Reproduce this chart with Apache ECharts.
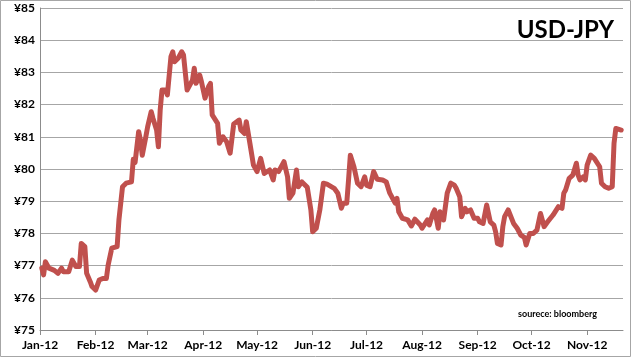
<!DOCTYPE html>
<html>
<head>
<meta charset="utf-8">
<script src="https://cdn.jsdelivr.net/npm/echarts@6/dist/echarts.min.js"></script>
<style>
html,body{margin:0;padding:0;background:#fff;}
#c{width:641px;height:360px;}
</style>
</head>
<body>
<div id="c"></div>
<script>
// ---- data ----
const dates = [
'2012-01-02','2012-01-03','2012-01-04','2012-01-06','2012-01-09','2012-01-11','2012-01-13','2012-01-14','2012-01-17','2012-01-19',
'2012-01-21','2012-01-23','2012-01-24','2012-01-26','2012-01-27','2012-01-29','2012-01-30','2012-02-01','2012-02-02','2012-02-03',
'2012-02-05','2012-02-07','2012-02-08','2012-02-10','2012-02-11','2012-02-13','2012-02-14','2012-02-15','2012-02-16','2012-02-18',
'2012-02-21','2012-02-22','2012-02-23','2012-02-25','2012-02-26','2012-02-27','2012-02-29','2012-03-01','2012-03-03','2012-03-04',
'2012-03-06','2012-03-07','2012-03-08','2012-03-09','2012-03-11','2012-03-12','2012-03-14','2012-03-15','2012-03-16','2012-03-18',
'2012-03-20','2012-03-21','2012-03-23','2012-03-24','2012-03-26','2012-03-27','2012-03-28','2012-03-30','2012-03-31','2012-04-02',
'2012-04-04','2012-04-05','2012-04-06','2012-04-09','2012-04-10','2012-04-12','2012-04-14','2012-04-16','2012-04-18','2012-04-21',
'2012-04-22','2012-04-24','2012-04-25','2012-04-27','2012-04-29','2012-05-01','2012-05-03','2012-05-05','2012-05-06','2012-05-08',
'2012-05-10','2012-05-11','2012-05-13','2012-05-14','2012-05-16','2012-05-18','2012-05-19','2012-05-21','2012-05-23','2012-05-24',
'2012-05-26','2012-05-29','2012-05-31','2012-06-01','2012-06-03','2012-06-05','2012-06-07','2012-06-09','2012-06-13','2012-06-15',
'2012-06-17','2012-06-18','2012-06-20','2012-06-21','2012-06-22','2012-06-24','2012-06-26','2012-06-28','2012-06-30','2012-07-01',
'2012-07-03','2012-07-05','2012-07-07','2012-07-10','2012-07-12','2012-07-14','2012-07-17','2012-07-18','2012-07-19','2012-07-21',
'2012-07-24','2012-07-26','2012-07-28','2012-07-31','2012-08-01','2012-08-04','2012-08-05','2012-08-07','2012-08-08','2012-08-10',
'2012-08-11','2012-08-13','2012-08-15','2012-08-17','2012-08-19','2012-08-20','2012-08-22','2012-08-23','2012-08-25','2012-08-26',
'2012-08-28','2012-08-30','2012-09-01','2012-09-02','2012-09-04','2012-09-06','2012-09-08','2012-09-10','2012-09-11','2012-09-12',
'2012-09-14','2012-09-15','2012-09-16','2012-09-18','2012-09-19','2012-09-21','2012-09-23','2012-09-25','2012-09-27','2012-09-28',
'2012-09-30','2012-10-02','2012-10-04','2012-10-06','2012-10-07','2012-10-08','2012-10-10','2012-10-13','2012-10-16','2012-10-18',
'2012-10-19','2012-10-20','2012-10-22','2012-10-24','2012-10-26','2012-10-27','2012-10-28','2012-10-30','2012-10-31','2012-11-01',
'2012-11-03','2012-11-05','2012-11-06','2012-11-08','2012-11-09','2012-11-11','2012-11-13','2012-11-15','2012-11-16','2012-11-17',
'2012-11-18','2012-11-20'
];
const usdJpy = [
76.92,76.71,77.12,76.92,76.85,76.76,76.92,76.81,76.81,77.17,
76.97,76.97,77.69,77.59,76.76,76.50,76.35,76.24,76.19,76.55,
76.60,76.60,77.02,77.54,77.59,77.59,78.42,78.47,79.45,79.56,
79.60,80.30,80.20,81.16,80.90,80.43,81.00,81.31,81.78,81.57,
81.21,80.69,81.83,82.45,82.45,82.30,83.49,83.64,83.33,83.44,
83.64,83.54,82.45,82.40,82.76,83.13,82.66,82.92,82.71,82.20,
82.56,82.66,81.68,81.42,80.80,81.00,80.85,80.49,81.40,81.52,
81.21,81.10,81.47,80.80,80.12,79.92,80.33,79.86,79.92,79.97,
79.66,79.97,79.92,79.86,80.23,79.76,79.09,79.25,79.97,79.45,
79.60,79.43,78.73,78.05,78.16,78.73,79.56,79.53,79.40,79.25,
78.78,78.94,78.94,79.66,80.43,80.07,79.56,79.45,79.76,79.50,
79.45,79.92,79.68,79.66,79.60,79.25,78.94,79.09,78.67,78.47,
78.42,78.23,78.44,78.26,78.16,78.42,78.26,78.62,78.73,78.16,
78.67,78.42,79.25,79.56,79.50,79.40,79.14,78.52,78.78,78.67,
78.73,78.47,78.47,78.36,78.31,78.88,78.36,78.26,78.05,77.69,
77.64,78.21,78.52,78.73,78.73,78.31,78.16,77.95,77.88,77.64,
78.00,78.00,78.10,78.62,78.42,78.21,78.36,78.57,78.83,78.78,
79.25,79.35,79.71,79.81,80.18,79.81,79.66,79.76,79.66,80.12,
80.43,80.33,80.38,80.07,79.56,79.45,79.40,79.45,80.80,81.26,
81.31,81.21
];
const monthStarts = ['2012-01-01','2012-02-01','2012-03-01','2012-04-01','2012-05-01','2012-06-01','2012-07-01','2012-08-01','2012-09-01','2012-10-01','2012-11-01'];
const monthLabels = ['Jan-12','Feb-12','Mar-12','Apr-12','May-12','Jun-12','Jul-12','Aug-12','Sep-12','Oct-12','Nov-12'];
const axisEndDate = '2012-11-21';
const titleText = 'USD-JPY';
const sourceText = 'sourece: bloomberg';

// ---- helpers ----
function dayIndex(s){
  const p = s.split('-').map(Number);
  return Math.round((Date.UTC(p[0],p[1]-1,p[2]) - Date.UTC(2012,0,1)) / 86400000);
}
const tickDays = monthStarts.map(dayIndex);
const seriesData = dates.map((d,i)=>[dayIndex(d), usdJpy[i]]);

const chart = echarts.init(document.getElementById('c'), null, {renderer:'canvas'});
const FONT = 'Lato, "Open Sans", sans-serif';
chart.setOption({
  animation:false,
  backgroundColor:'#ffffff',
  title:{
    text:titleText, right:22, top:13,
    textStyle:{fontFamily:FONT, fontWeight:'bold', fontSize:24, color:'#000'}
  },
  graphic:[
    {type:'rect', shape:{x:0.5,y:0.5,width:630,height:356}, style:{fill:'none', stroke:'#a6a6a6', lineWidth:1}, z:-1},
    {type:'text', left:518, top:310, style:{text:sourceText, font:'bold 9px '+FONT, fill:'#000'}}
  ],
  grid:{left:40, right:18, top:8, bottom:30, containLabel:false},
  xAxis:{
    type:'value', min:0, max:dayIndex(axisEndDate),
    axisLine:{show:true, lineStyle:{color:'#8c8c8c', width:1}},
    axisTick:{show:true, customValues:tickDays, length:5, lineStyle:{color:'#8c8c8c'}},
    axisLabel:{
      customValues:tickDays, margin:9,
      fontFamily:FONT, fontWeight:'bold', fontSize:12, color:'#000',
      formatter:function(v){const i=tickDays.indexOf(Math.round(v)); return i>=0?monthLabels[i]:'';}
    },
    splitLine:{show:false}
  },
  yAxis:{
    type:'value', min:75, max:85, interval:1,
    axisLine:{show:true, lineStyle:{color:'#8c8c8c', width:1}},
    axisTick:{show:false},
    axisLabel:{formatter:'¥{value}', margin:5, fontFamily:FONT, fontWeight:'bold', fontSize:12, color:'#000'},
    splitLine:{show:true, lineStyle:{color:'#a6a6a6', width:1}}
  },
  series:[{
    type:'line', data:seriesData, showSymbol:false, smooth:false,
    lineStyle:{color:'#c0504d', width:5, cap:'round', join:'round'},
    itemStyle:{color:'#c0504d'}
  }]
});
</script>
</body>
</html>
